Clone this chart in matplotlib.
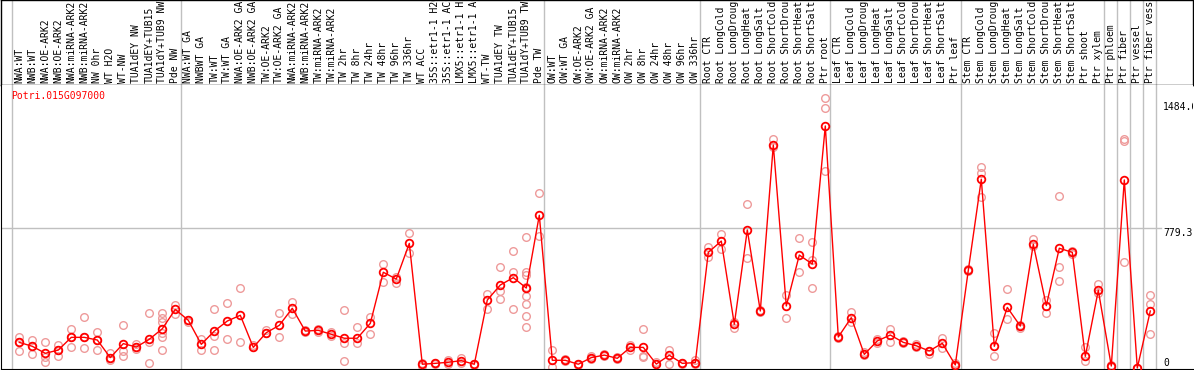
import matplotlib
matplotlib.use('Agg')
import matplotlib.pyplot as plt
import matplotlib.transforms as mtransforms

gene = 'Potri.015G097000'

samples = [
    'NWA:WT', 'NWB:WT', 'NWA:OE-ARK2', 'NWB:OE-ARK2', 'NWA:miRNA-ARK2', 'NWB:miRNA-ARK2',
    'NW 0hr', 'WT H2O', 'WT-NW', 'TUA1dEY NW', 'TUA1dEY+TUB15', 'TUA1dY+TUB9 NW', 'Pde NW',
    'NWA:WT GA', 'NWBWT GA', 'TW:WT', 'TW:WT GA', 'NWA:OE-ARK2 GA', 'NWB:OE-ARK2 GA',
    'TW:OE-ARK2', 'TW:OE-ARK2 GA', 'NWA:miRNA-ARK2', 'NWB:miRNA-ARK2', 'TW:miRNA-ARK2',
    'TW:miRNA-ARK2', 'TW 2hr', 'TW 8hr', 'TW 24hr', 'TW 48hr', 'TW 96hr', 'TW 336hr',
    'WT ACC', '35S::etr1-1 H2O', '35S::etr1-1 ACC', 'LMX5::etr1-1 H2O', 'LMX5::etr1-1 ACC',
    'WT-TW', 'TUA1dEY TW', 'TUA1dEY+TUB15', 'TUA1dY+TUB9 TW', 'Pde TW',
    'OW:WT', 'OW:WT GA', 'OW:OE-ARK2', 'OW:OE-ARK2 GA', 'OW:miRNA-ARK2', 'OW:miRNA-ARK2',
    'OW 2hr', 'OW 8hr', 'OW 24hr', 'OW 48hr', 'OW 96hr', 'OW 336hr',
    'Root CTR', 'Root LongCold', 'Root LongDrought', 'Root LongHeat', 'Root LongSalt',
    'Root ShortCold', 'Root ShortDrought', 'Root ShortHeat', 'Root ShortSalt', 'Ptr root',
    'Leaf CTR', 'Leaf LongCold', 'Leaf LongDrought', 'Leaf LongHeat', 'Leaf LongSalt',
    'Leaf ShortCold', 'Leaf ShortDrought', 'Leaf ShortHeat', 'Leaf ShortSalt', 'Ptr leaf',
    'Stem CTR', 'Stem LongCold', 'Stem LongDrought', 'Stem LongHeat', 'Stem LongSalt',
    'Stem ShortCold', 'Stem ShortDrought', 'Stem ShortHeat', 'Stem ShortSalt',
    'Ptr shoot', 'Ptr xylem', 'Ptr phloem', 'Ptr fiber', 'Ptr vessel', 'Ptr fiber vessel',
]

means = [
    143, 121, 82, 100, 171, 171, 156, 58, 136, 117, 160, 219, 327,
    266, 132, 206, 262, 294, 115, 197, 238, 333, 206, 210, 188, 166, 166, 249,
    534, 496, 695, 21, 26, 32, 41, 21, 379, 463, 504, 446, 852,
    43, 43, 21, 58, 72, 54, 115, 115, 22, 71, 26, 30,
    645, 708, 244, 770, 318, 1244, 346, 630, 580, 1350,
    173, 281, 76, 151, 184, 143, 124, 95, 138, 17,
    545, 1053, 121, 338, 234, 690, 348, 668, 645, 65, 433,
    11, 1049, 0, 318,
]

reps = [
    [175, 143, 97], [156, 121, 80], [143, 63, 35], [127, 100, 65], [216, 171, 117],
    [283, 171, 113], [201, 156, 99], [82, 54, 45], [238, 95, 69], [134, 117, 104],
    [305, 143, 26], [305, 277, 257, 195, 171, 99], [353, 301],
    [266, 257], [160, 100], [329, 180, 99], [364, 160], [444, 143], [128, 115],
    [212, 197], [305, 171], [366, 301], [212, 200], [218, 200], [200, 178],
    [323, 138, 37], [227, 138], [283, 188], [580, 481], [506, 476], [751, 640],
    [30, 10], [30, 20], [44, 20], [55, 28], [25, 18], [413, 331], [563, 428, 383],
    [651, 534, 327], [731, 537, 518, 453, 403, 359, 288, 227], [974, 736],
    [100, 7], [50, 38], [25, 18], [69, 50], [78, 66], [60, 48], [128, 100],
    [216, 69, 60], [33, 20], [100, 22], [30, 22], [43, 25],
    [673, 621], [746, 664], [255, 223], [913, 612], [325, 312], [1275, 1230],
    [405, 281], [723, 534], [701, 602, 444], [1504, 1449, 1097],
    [178, 165], [314, 255], [87, 70], [160, 140], [218, 143], [150, 138],
    [132, 118], [95, 76], [166, 110], [28, 10],
    [550, 540], [1120, 1090, 956], [193, 69], [439, 271], [240, 225], [719, 680],
    [379, 305], [961, 562, 484], [650, 635], [115, 39], [469, 420],
    [15, 8], [1276, 1266, 593], [2, 0], [405, 355, 188],
]

group_starts = [0, 13, 41, 53, 63, 73, 84, 85, 86, 87, 88]
side_labels = ['1484.6', '779.3', '0']
side_values = [1484.6, 779.3, 55]
grid_value = 779.3

W, H = 1194, 370
fig = plt.figure(figsize=(W / 100, H / 100), dpi=100)
mono = 'DejaVu Sans Mono'
fs = 7.0

xlim = ((1 - 19.3) / 13, (1193 - 19.3) / 13)
ylim = (-1 * 5.578, 283 * 5.578)

ax_h = fig.add_axes([1 / W, (H - 85) / H, 1192 / W, 85 / H])
ax = fig.add_axes([1 / W, 1 / H, 1192 / W, 284 / H])

for a in (ax_h, ax):
    a.set_xlim(*xlim)
    a.set_xticks([])
    a.set_yticks([])
    for g in group_starts:
        a.axvline(g - 0.6, color='#c0c0c0', lw=1, zorder=0)

ax_h.set_ylim(0, 1)
for s in ax_h.spines.values():
    s.set_color('black')
    s.set_linewidth(1)

trans = mtransforms.blended_transform_factory(ax_h.transData, ax_h.transAxes)
for i, lab in enumerate(samples):
    ax_h.text(i, 2 / 85, lab, rotation=90, ha='center', va='bottom',
              transform=trans, family=mono, fontsize=fs, clip_on=True)

ax.set_ylim(*ylim)
ax.spines['top'].set_visible(False)
ax.spines['right'].set_visible(False)
ax.spines['left'].set_color('black')
ax.spines['bottom'].set_color('black')

ax.plot([xlim[0], 87.8], [grid_value, grid_value], color='#c0c0c0', lw=1, zorder=0)

for i, r in enumerate(reps):
    ax.plot([i] * len(r), r, 'o', ms=5.5, mfc='none', mec='#ee9a9a', mew=1.0, zorder=2)

xs = list(range(len(means)))
ax.plot(xs, means, '-', color='red', lw=1.0, zorder=3)
ax.plot(xs, means, 'o', ms=5.5, mfc='none', mec='red', mew=1.3, zorder=4)

ax.text(-0.65, 1 - 6 / 284, gene, color='red', family=mono, fontsize=fs,
        transform=mtransforms.blended_transform_factory(ax.transData, ax.transAxes),
        ha='left', va='top')

for lab, v in zip(side_labels, side_values):
    ax.text(88.0, v, lab, family=mono, fontsize=fs, ha='left', va='top', clip_on=True)

fig.savefig('out.png', dpi=100)
